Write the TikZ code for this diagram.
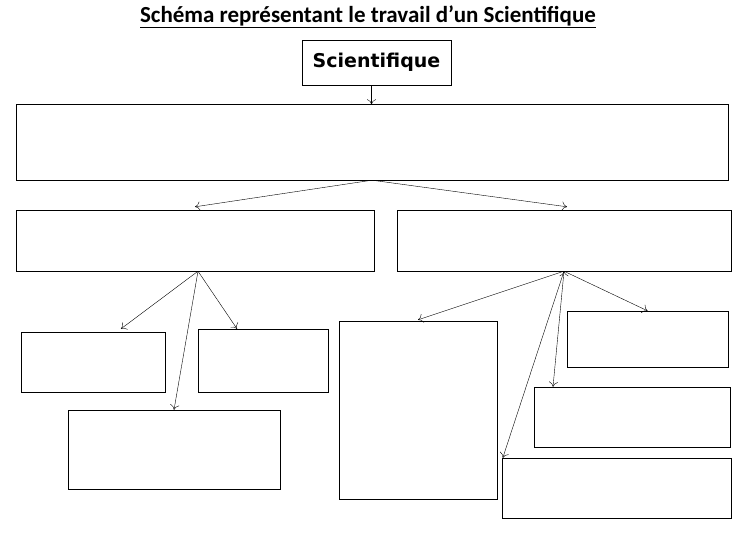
\documentclass[tikz,border=0pt]{standalone}
\usepackage{fontspec}
\setmainfont{Carlito}
\usetikzlibrary{positioning, arrows.meta}

\begin{document}
\begin{tikzpicture}[->, >={To[length=5pt,width=9pt]}, thin, x=1pt, y=-1pt,
    boite/.style={draw, rectangle, inner sep=0pt}]
    \useasboundingbox (0,0) rectangle (749,545);
    \node[font=\fontsize{23}{26}\selectfont\bfseries] (titre) at (368,17) {\underline{Schéma représentant le travail d’un Scientifique}};
    \node[boite, minimum width=149pt, minimum height=45pt, font=\fontsize{19}{22}\selectfont\bfseries\fontspec{DejaVu Sans}] (sci) at (376.5,62.5) {Scientifique};
    \node[boite, minimum width=712pt, minimum height=76pt] (haut) at (372,142) {};
    \node[boite, minimum width=358pt, minimum height=61pt] (g) at (195,240.5) {};
    \node[boite, minimum width=334pt, minimum height=61pt] (d) at (564,240.5) {};
    \node[boite, minimum width=144pt, minimum height=60pt] (g1) at (93,362) {};
    \node[boite, minimum width=130pt, minimum height=63pt] (g2) at (263,360.5) {};
    \node[boite, minimum width=212pt, minimum height=79pt] (g3) at (174,449.5) {};
    \node[boite, minimum width=158pt, minimum height=178pt] (d1) at (418,410) {};
    \node[boite, minimum width=161pt, minimum height=56pt] (d2) at (647.5,339) {};
    \node[boite, minimum width=196pt, minimum height=60pt] (d3) at (632,417) {};
    \node[boite, minimum width=229pt, minimum height=60pt] (d4) at (616.5,488) {};
    \draw   ([xshift=-5pt]sci.south) edge ([xshift=-5pt,yshift=-0.5pt]sci.south |- haut.north)
            (haut.south) edge ([yshift=3pt]g.north) 
            (haut.south) edge ([yshift=3pt,xshift=3pt]d.north)
            ([xshift=3pt]g.south) edge ([xshift=28pt,yshift=3pt]g1.north)
            ([xshift=3pt]g.south) edge ([xshift=-26pt]g2.north)
            ([xshift=3pt]g.south) edge (g3.north)
            (d.south) edge ([yshift=1pt]d1.north)
            (d.south) edge (d2.north)
            (d.south) edge ([xshift=-79pt]d3.north)
            (d.south) edge ([xshift=1pt]d4.north west)
    ;
\end{tikzpicture}
\end{document}
